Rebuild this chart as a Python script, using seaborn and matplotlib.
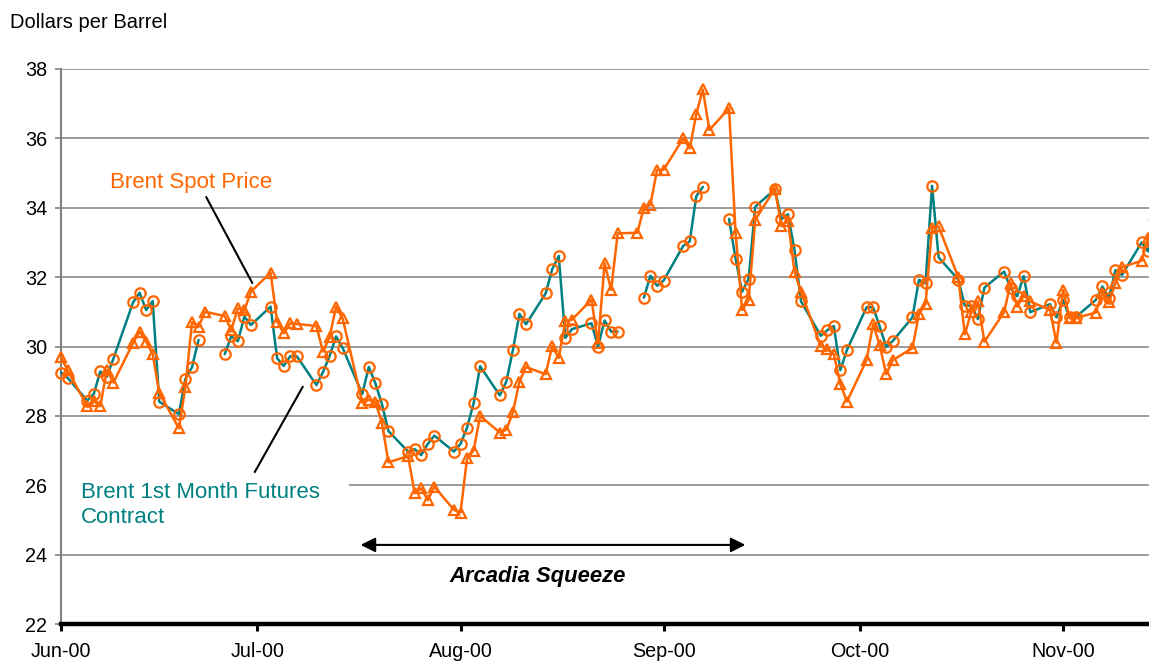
"""
Brent spot vs 1st month futures, Jun-Nov 2000 (Arcadia squeeze).
"""

import numpy as np
import pandas as pd
import matplotlib
matplotlib.use("Agg")
import matplotlib.pyplot as plt
import matplotlib.dates as mdates
from matplotlib.patches import Rectangle
import seaborn as sns

sns.set_style("white")
plt.rcParams['font.family'] = ['Liberation Sans', 'DejaVu Sans']
plt.rcParams['text.color'] = 'black'
plt.rcParams['xtick.labelcolor'] = 'black'
plt.rcParams['ytick.labelcolor'] = 'black'

ORANGE = '#FF6600'
TEAL = '#008080'

# business days
dates = [
    '2000-06-01', '2000-06-02', '2000-06-05', '2000-06-06', '2000-06-07', '2000-06-08', '2000-06-09',
    '2000-06-12', '2000-06-13', '2000-06-14', '2000-06-15', '2000-06-16', '2000-06-19', '2000-06-20',
    '2000-06-21', '2000-06-22', '2000-06-23', '2000-06-26', '2000-06-27', '2000-06-28', '2000-06-29',
    '2000-06-30',
    '2000-07-03', '2000-07-04', '2000-07-05', '2000-07-06', '2000-07-07', '2000-07-10', '2000-07-11',
    '2000-07-12', '2000-07-13', '2000-07-14', '2000-07-17', '2000-07-18', '2000-07-19', '2000-07-20',
    '2000-07-21', '2000-07-24', '2000-07-25', '2000-07-26', '2000-07-27', '2000-07-28', '2000-07-31',
    '2000-08-01', '2000-08-02', '2000-08-03', '2000-08-04', '2000-08-07', '2000-08-08', '2000-08-09',
    '2000-08-10', '2000-08-11', '2000-08-14', '2000-08-15', '2000-08-16', '2000-08-17', '2000-08-18',
    '2000-08-21', '2000-08-22', '2000-08-23', '2000-08-24', '2000-08-25', '2000-08-28', '2000-08-29',
    '2000-08-30', '2000-08-31',
    '2000-09-01', '2000-09-04', '2000-09-05', '2000-09-06', '2000-09-07', '2000-09-08', '2000-09-11',
    '2000-09-12', '2000-09-13', '2000-09-14', '2000-09-15', '2000-09-18', '2000-09-19', '2000-09-20',
    '2000-09-21', '2000-09-22', '2000-09-25', '2000-09-26', '2000-09-27', '2000-09-28', '2000-09-29',
    '2000-10-02', '2000-10-03', '2000-10-04', '2000-10-05', '2000-10-06', '2000-10-09', '2000-10-10',
    '2000-10-11', '2000-10-12', '2000-10-13', '2000-10-16', '2000-10-17', '2000-10-18', '2000-10-19',
    '2000-10-20', '2000-10-23', '2000-10-24', '2000-10-25', '2000-10-26', '2000-10-27', '2000-10-30',
    '2000-10-31',
    '2000-11-01', '2000-11-02', '2000-11-03', '2000-11-06', '2000-11-07', '2000-11-08', '2000-11-09',
    '2000-11-10', '2000-11-13', '2000-11-14', '2000-11-15',
]

# Brent 1st month futures (None = no quote)
futures = [
    29.25, 29.10, 28.44, 28.63, 29.28, 29.13, 29.65,
    31.27, 31.55, 31.05, 31.31, 28.41, 28.05, 29.07,
    29.40, 30.19, None, 29.78, 30.30, 30.15, 30.86,
    30.62,
    31.15, 29.66, 29.44, 29.72, 29.72, 28.89, 29.26,
    29.72, 30.29, 29.96, 28.63, 29.41, 28.94, 28.34,
    27.56, 26.97, 27.04, 26.87, 27.19, 27.43, 26.97,
    27.19, 27.66, 28.36, 29.43, 28.59, 28.99, 29.90,
    30.94, 30.64, 31.53, 32.23, 32.61, 30.25, 30.50,
    30.67, 30.00, 30.75, 30.43, 30.43, None, 31.41,
    32.04, 31.75,
    31.90, 32.90, 33.03, 34.33, 34.60, None, 33.68,
    32.53, 31.58, 31.96, 34.03, 34.53, 33.67, 33.81,
    32.78, 31.30, 30.31, 30.47, 30.59, 29.32, 29.90,
    31.13, 31.13, 30.58, 29.99, 30.16, 30.84, 31.92,
    31.82, 34.63, 32.57, 31.93, 31.18, 31.18, 30.79,
    31.70, 32.16, 31.68, 31.45, 32.03, 30.99, 31.22,
    30.84,
    31.34, 30.84, 30.86, 31.34, 31.73, 31.39, 32.20,
    32.06, 33.00, 32.74, 33.93,
]

# Brent spot price
spot = [
    29.69, 29.32, 28.28, 28.42, 28.28, 29.32, 28.96,
    30.10, 30.43, 30.14, 29.78, 28.67, 27.64, 28.84,
    30.70, 30.57, 31.00, 30.88, 30.47, 31.10, 31.05,
    31.58,
    32.13, 30.72, 30.38, 30.67, 30.65, 30.59, 29.85,
    30.26, 31.15, 30.81, 28.38, 28.46, 28.41, 27.80,
    26.66, 26.84, 25.77, 25.91, 25.57, 25.96, 25.29,
    25.21, 26.78, 27.00, 28.00, 27.52, 27.60, 28.10,
    28.99, 29.41, 29.20, 30.02, 29.67, 30.73, 30.77,
    31.35, 30.09, 32.40, 31.63, 33.26, 33.28, 34.00,
    34.08, 35.09,
    35.09, 36.00, 35.71, 36.70, 37.41, 36.24, 36.87,
    33.28, 31.05, 31.34, 33.65, 34.55, 33.47, 33.63,
    32.15, 31.58, 30.01, 29.92, 29.78, 28.92, 28.41,
    29.61, 30.65, 30.04, 29.20, 29.61, 29.95, 30.94,
    31.22, 33.43, 33.46, 32.00, 30.35, 31.00, 31.30,
    30.14, 30.99, 31.83, 31.15, 31.47, 31.30, 31.05,
    30.11,
    31.63, 30.82, 30.82, 30.98, 31.55, 31.27, 31.83,
    32.29, 32.47, 33.12, 33.80,
]

y_ticks = [22, 24, 26, 28, 30, 32, 34, 36, 38]


def main():
    df = pd.DataFrame({
        'date': pd.to_datetime(dates),
        'futures': pd.array(futures, dtype='Float64').astype(float),
        'spot': spot,
    })
    # break the futures line where there is no quote
    df['f_seg'] = df['futures'].isna().cumsum()

    fig = plt.figure(figsize=(11.49, 6.62), dpi=100)
    ax = fig.add_axes([61 / 1149, 38 / 662, 1088 / 1149, 555 / 662])

    sns.lineplot(data=df, x='date', y='futures', units='f_seg', estimator=None,
                 color=TEAL, lw=1.8, marker='o', markersize=7.5,
                 markerfacecolor='none', markeredgecolor=ORANGE, markeredgewidth=1.6,
                 clip_on=False, legend=False, ax=ax, zorder=3)
    sns.lineplot(data=df, x='date', y='spot', estimator=None,
                 color=ORANGE, lw=1.8, marker='^', markersize=7,
                 markerfacecolor='none', markeredgecolor=ORANGE, markeredgewidth=1.6,
                 clip_on=False, legend=False, ax=ax, zorder=4)

    ax.set_xlim(pd.Timestamp('2000-06-01'), pd.Timestamp('2000-11-14 03:00'))
    ax.set_ylim(22, 38)
    ax.set_yticks(y_ticks)
    ax.set_xlabel('')
    ax.set_ylabel('')

    ax.xaxis.set_major_locator(mdates.MonthLocator())
    ax.xaxis.set_major_formatter(mdates.DateFormatter('%b-%y'))

    ax.set_axisbelow(True)
    ax.yaxis.grid(True, color='#808080', lw=1.1)
    ax.xaxis.grid(False)

    for s in ['top', 'right']:
        ax.spines[s].set_visible(False)
    ax.spines['left'].set_color('#808080')
    ax.spines['left'].set_linewidth(1.5)
    ax.spines['bottom'].set_color('black')
    ax.spines['bottom'].set_linewidth(3.2)
    ax.spines['bottom'].set_zorder(5)

    ax.tick_params(axis='y', direction='out', length=4, width=1.2, color='#808080',
                   labelsize=14.2, pad=6, left=True, labelcolor='black')
    ax.tick_params(axis='x', direction='out', length=5, width=2.2, color='black',
                   labelsize=14.2, pad=8, bottom=True, labelcolor='black')

    fig.text(10 / 1149, 1 - 22 / 662, 'Dollars per Barrel', fontsize=14.5,
             ha='left', va='center', color='black')

    # white box behind the futures label
    ax.add_patch(Rectangle((mdates.date2num(pd.Timestamp('2000-05-31')), 24.62),
                           mdates.date2num(pd.Timestamp('2000-07-15')) - mdates.date2num(pd.Timestamp('2000-05-31')),
                           1.75, facecolor='white', edgecolor='none', zorder=1, clip_on=False))

    ax.text(pd.Timestamp('2000-06-08 12:00'), 34.74, 'Brent Spot Price', color=ORANGE,
            fontsize=16, ha='left', va='center')
    ax.plot([pd.Timestamp('2000-06-23 04:00'), pd.Timestamp('2000-06-30 05:00')], [34.31, 31.83],
            color='black', lw=1.5, zorder=2)

    ax.text(pd.Timestamp('2000-06-04 02:00'), 25.43, 'Brent 1st Month Futures\nContract', color=TEAL,
            fontsize=16, ha='left', va='center', linespacing=1.3, zorder=2)
    ax.plot([pd.Timestamp('2000-06-30 14:00'), pd.Timestamp('2000-07-07 22:00')], [26.38, 28.84],
            color='black', lw=1.5, zorder=2)

    ax.annotate('', xy=(pd.Timestamp('2000-07-16 18:00'), 24.28),
                xytext=(pd.Timestamp('2000-09-13 12:00'), 24.28),
                arrowprops=dict(arrowstyle='<|-|>', color='black', lw=1.5,
                                mutation_scale=22, shrinkA=0, shrinkB=0))
    ax.text(pd.Timestamp('2000-08-12 20:00'), 23.38, 'Arcadia Squeeze', fontsize=15.8,
            fontweight='bold', fontstyle='italic', ha='center', va='center', color='black')

    fig.savefig('out.png', dpi=100)
    plt.close(fig)


if __name__ == "__main__":
    main()
